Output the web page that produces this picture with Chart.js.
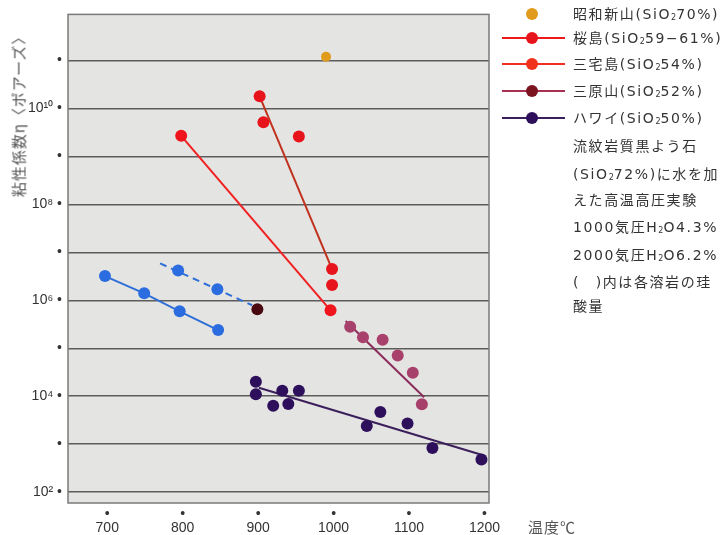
<!DOCTYPE html>
<html>
<head>
<meta charset="utf-8">
<title>溶岩の温度と粘性係数</title>
<script src="https://cdn.jsdelivr.net/npm/chart.js"></script>
<style>
  body { margin: 0; background: #fff; font-family: 'DejaVu Sans', 'Noto Sans CJK JP', sans-serif; color: #333; }
  #wrap { position: relative; width: 727px; height: 535px; overflow: hidden; }
  #chart { position: absolute; left: 0; top: 0; }
  .ytitle {
    position: absolute; left: 18px; top: 113px;
    transform: translate(-50%, -50%) rotate(-90deg);
    font-family: 'Noto Sans CJK JP', sans-serif;
    font-size: 15px; letter-spacing: 1px; white-space: nowrap; color: #555;
  }
  .xtitle { position: absolute; left: 528px; top: 516px; font-family: 'Noto Sans CJK JP', sans-serif; font-size: 15px; color: #555; letter-spacing: 1px; }
  .legend { position: absolute; left: 500px; top: 0; width: 227px; height: 320px; }
  .row { position: absolute; left: 0; width: 227px; height: 20px; }
  .row .ln { position: absolute; left: 2px; width: 63px; top: 9px; height: 2px; }
  .row .dot { position: absolute; left: 26px; top: 4px; width: 12px; height: 12px; border-radius: 50%; }
  .row .txt { position: absolute; left: 73px; top: 0; line-height: 20px; font-size: 14px; letter-spacing: 1.6px; white-space: nowrap; }
  sub { font-size: 8px; vertical-align: -1px; letter-spacing: 0; }
</style>
</head>
<body>
<div id="wrap">
  <canvas id="chart" width="727" height="535"></canvas>
  <div class="ytitle">粘性係数η〈ポアーズ〉</div>
  <div class="xtitle">温度℃</div>
  <div class="legend">
    <div class="row" style="top:4px"><span class="dot" style="background:#e09a1c"></span><span class="txt">昭和新山(SiO<sub>2</sub>70%)</span></div>
    <div class="row" style="top:28px"><span class="ln" style="background:#ec1a1a"></span><span class="dot" style="background:#e8141c"></span><span class="txt">桜島(SiO<sub>2</sub>59−61%)</span></div>
    <div class="row" style="top:54px"><span class="ln" style="background:#f03020"></span><span class="dot" style="background:#f0321c"></span><span class="txt">三宅島(SiO<sub>2</sub>54%)</span></div>
    <div class="row" style="top:81px"><span class="ln" style="background:#a83050"></span><span class="dot" style="background:#7c1420"></span><span class="txt">三原山(SiO<sub>2</sub>52%)</span></div>
    <div class="row" style="top:108px"><span class="ln" style="background:#3b1f5c"></span><span class="dot" style="background:#2e0f5c"></span><span class="txt">ハワイ(SiO<sub>2</sub>50%)</span></div>
    <div class="row" style="top:136px"><span class="txt">流紋岩質黒よう石</span></div>
    <div class="row" style="top:164px"><span class="txt">(SiO<sub>2</sub>72%)に水を加</span></div>
    <div class="row" style="top:190px"><span class="txt">えた高温高圧実験</span></div>
    <div class="row" style="top:217px"><span class="txt">1000気圧H<sub>2</sub>O4.3%</span></div>
    <div class="row" style="top:245px"><span class="txt">2000気圧H<sub>2</sub>O6.2%</span></div>
    <div class="row" style="top:272px"><span class="txt">(　)内は各溶岩の珪</span></div>
    <div class="row" style="top:296px"><span class="txt">酸量</span></div>
  </div>
</div>

<script>
// 軸の目盛
const tempTicks = [700, 800, 900, 1000, 1100, 1200];
const viscTicks = [1e2, 1e3, 1e4, 1e5, 1e6, 1e7, 1e8, 1e9, 1e10, 1e11];
const viscLabels = ['10²', '', '10⁴', '', '10⁶', '', '10⁸', '', '10¹⁰', ''];

// 昭和新山
const showaTemp = [990];
const showaVisc = [1.2e11];

// 桜島 (測定点と直線)
const sakuraTemp = [902, 907, 954, 998, 998];
const sakuraVisc = [1.8e10, 5.2e9, 2.6e9, 4.5e6, 2.1e6];
const sakuraLineTemp = [902, 998];
const sakuraLineVisc = [1.8e10, 4.5e6];

// 三宅島
const miyakeTemp = [798, 996];
const miyakeVisc = [2.7e9, 6.2e5];

// 三原山
const miharaTemp = [899, 1022, 1039, 1065, 1085, 1105, 1117];
const miharaVisc = [6.5e5, 2.8e5, 1.7e5, 1.5e5, 7.1e4, 3.1e4, 6.8e3];
const miharaLineTemp = [1016, 1120];
const miharaLineVisc = [3.7e5, 9.5e3];

// ハワイ
const hawaiiTemp = [897, 897, 920, 932, 940, 954, 1044, 1062, 1098, 1131, 1196];
const hawaiiVisc = [2.0e4, 1.1e4, 6.3e3, 1.3e4, 6.9e3, 1.3e4, 2.4e3, 4.7e3, 2.7e3, 8.3e2, 4.8e2];
const hawaiiLineTemp = [901, 1196];
const hawaiiLineVisc = [1.5e4, 6.0e2];

// 黒よう石 + 水 (1000気圧: 破線, 2000気圧: 実線)
const obs1000Temp = [794, 846];
const obs1000Visc = [4.2e6, 1.7e6];
const obs1000LineTemp = [770, 892];
const obs1000LineVisc = [5.9e6, 7.9e5];
const obs2000Temp = [697, 749, 796, 847];
const obs2000Visc = [3.2e6, 1.4e6, 5.9e5, 2.4e5];

const pts = (xs, ys) => xs.map((x, i) => ({x: x, y: ys[i]}));

function pointSet(xs, ys, color, r) {
  return {
    data: pts(xs, ys), showLine: false, order: 0,
    pointRadius: r, pointBackgroundColor: color, pointBorderColor: color, pointBorderWidth: 0
  };
}
function lineSet(xs, ys, color, dash) {
  return {
    data: pts(xs, ys), showLine: true, order: 1, pointRadius: 0,
    borderColor: color, borderWidth: 2, borderDash: dash || []
  };
}

const mauve = '#a8406c';

// 描画領域の背景と枠
const plotFrame = {
  id: 'plotFrame',
  beforeDraw(chart) {
    const {ctx, chartArea: a} = chart;
    ctx.save();
    ctx.fillStyle = '#e4e4e2';
    ctx.fillRect(a.left, a.top, a.right - a.left, a.bottom - a.top);
    ctx.restore();
  },
  afterDraw(chart) {
    const {ctx, chartArea: a} = chart;
    ctx.save();
    ctx.strokeStyle = '#7a7a7a';
    ctx.lineWidth = 1.5;
    ctx.strokeRect(a.left, a.top, a.right - a.left, a.bottom - a.top);
    ctx.restore();
  }
};

new Chart(document.getElementById('chart'), {
  type: 'scatter',
  data: {
    datasets: [
      lineSet(sakuraLineTemp, sakuraLineVisc, '#c0321e'),
      lineSet(miyakeTemp, miyakeVisc, '#f02020'),
      lineSet(miharaLineTemp, miharaLineVisc, '#8c2c5c'),
      lineSet(hawaiiLineTemp, hawaiiLineVisc, '#3b1f5c'),
      lineSet(obs1000LineTemp, obs1000LineVisc, '#2f6fd8', [7, 5]),
      lineSet(obs2000Temp, obs2000Visc, '#2f6fd8'),
      pointSet(showaTemp, showaVisc, '#e09a1c', 5),
      pointSet(sakuraTemp, sakuraVisc, '#e8141c', 6),
      pointSet(miyakeTemp, miyakeVisc, '#f0141c', 6),
      pointSet(miharaTemp, miharaVisc, ctx => ctx.dataIndex === 0 ? '#4a0810' : mauve, 6),
      pointSet(hawaiiTemp, hawaiiVisc, '#2e0f5c', 6),
      pointSet(obs1000Temp, obs1000Visc, '#2b6de0', 6),
      pointSet(obs2000Temp, obs2000Visc, '#2b6de0', 6)
    ]
  },
  plugins: [plotFrame],
  options: {
    responsive: false,
    animation: false,
    layout: { padding: { top: 8, right: 238, left: 0, bottom: 0 } },
    plugins: {
      legend: { display: false },
      tooltip: { enabled: false }
    },
    elements: { point: { hoverRadius: 6 } },
    scales: {
      x: {
        type: 'linear',
        min: 648, max: 1206,
        afterFit: s => { s.height = 32; },
        afterBuildTicks: s => { s.ticks = tempTicks.map(v => ({value: v})); },
        grid: { display: false },
        border: { display: false },
        ticks: {
          padding: -4,
          color: '#333',
          maxRotation: 0,
          autoSkip: false,
          font: { family: "'Liberation Sans', sans-serif", size: 14, lineHeight: 1.0 },
          callback: v => ['•', String(v)]
        }
      },
      y: {
        type: 'logarithmic',
        min: 59.3, max: 9.2e11,
        afterFit: s => { s.width = 68; },
        afterBuildTicks: s => { s.ticks = viscTicks.map(v => ({value: v})); },
        grid: { color: '#5c5c5c', lineWidth: 1.5, drawTicks: false },
        border: { display: false },
        ticks: {
          padding: 6,
          color: '#333',
          autoSkip: false,
          font: { family: "'Liberation Sans', sans-serif", size: 14 },
          callback: (v, i) => viscLabels[i] ? viscLabels[i] + ' •' : '•'
        }
      }
    }
  }
});
</script>
</body>
</html>
